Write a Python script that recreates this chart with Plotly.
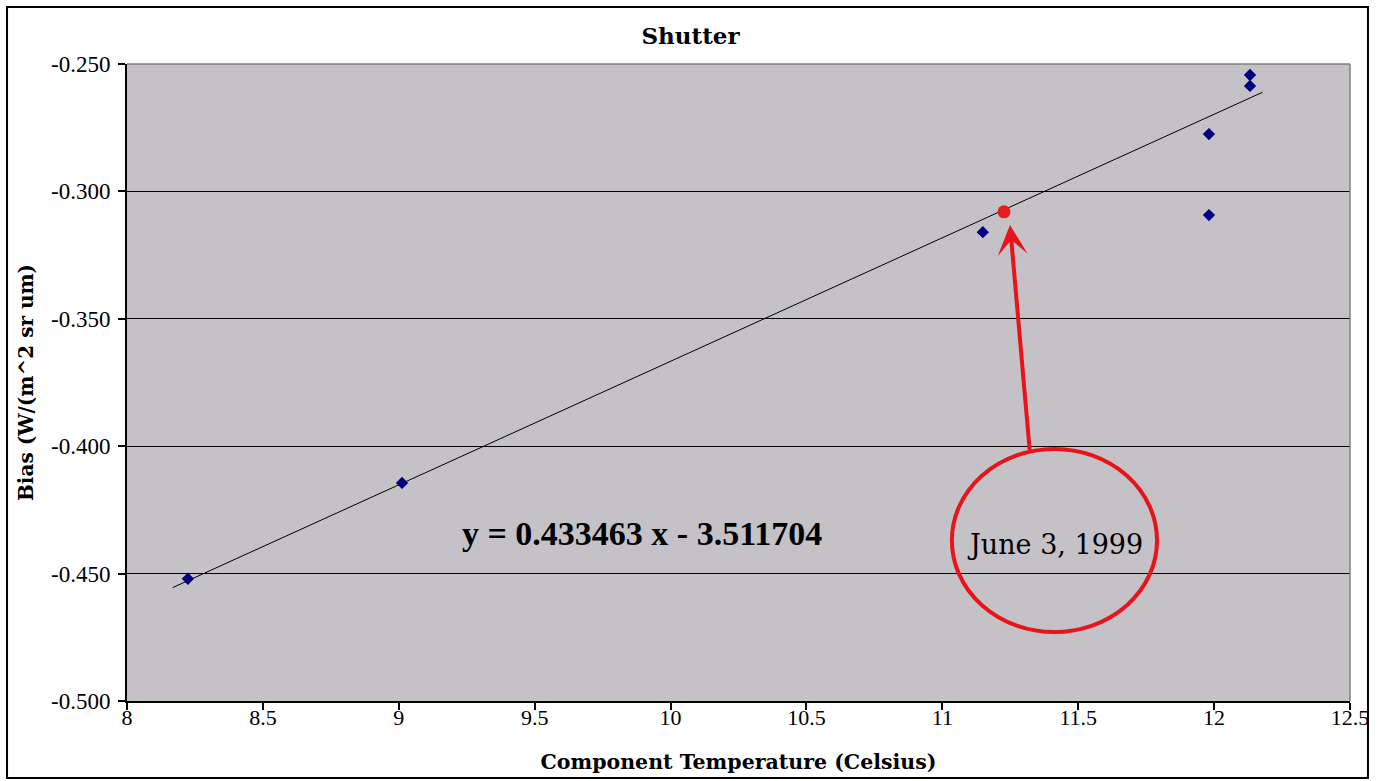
import plotly.graph_objects as go

# ---- data ----
TEMP_C = [8.224, 9.012, 11.149, 11.981, 11.981, 12.132, 12.132]
BIAS = [-0.4520, -0.4144, -0.3160, -0.2775, -0.3093, -0.2543, -0.2586]

HIGHLIGHT_TEMP = [11.227]
HIGHLIGHT_BIAS = [-0.3080]
HIGHLIGHT_LABEL = "June 3, 1999"

TREND_X = [8.168, 12.178]
TREND_Y = [-0.4555, -0.2611]
EQUATION = "y = 0.433463 x - 3.511704"

X_TICKS = [8, 8.5, 9, 9.5, 10, 10.5, 11, 11.5, 12, 12.5]
X_TICK_LABELS = ["8", "8.5", "9", "9.5", "10", "10.5", "11", "11.5", "12", "12.5"]
Y_TICKS = [-0.500, -0.450, -0.400, -0.350, -0.300, -0.250]
Y_TICK_LABELS = ["-0.500", "-0.450", "-0.400", "-0.350", "-0.300", "-0.250"]

TITLE = "Shutter"
X_TITLE = "Component Temperature (Celsius)"
Y_TITLE = "Bias (W/(m^2 sr um)"

SERIF = "Liberation Serif, Times New Roman, serif"
WIDE_SERIF = "DejaVu Serif, serif"

fig = go.Figure()

fig.add_trace(go.Scatter(
    x=TREND_X, y=TREND_Y, mode="lines",
    line=dict(color="black", width=1), showlegend=False, hoverinfo="skip"))

fig.add_trace(go.Scatter(
    x=TEMP_C, y=BIAS, mode="markers",
    marker=dict(symbol="diamond", size=9.5, color="#000080",
                line=dict(width=0)),
    showlegend=False))

fig.add_trace(go.Scatter(
    x=HIGHLIGHT_TEMP, y=HIGHLIGHT_BIAS, mode="markers",
    marker=dict(symbol="circle", size=13, color="#e81c1c",
                line=dict(width=0)),
    showlegend=False))

# equation text
fig.add_annotation(x=9.895, y=-0.4341, xref="x", yref="y", text=EQUATION,
                   showarrow=False,
                   font=dict(family=SERIF, size=34, color="black", weight="bold"))

# red ellipse with label
fig.add_shape(type="circle", xref="x", yref="y",
              x0=11.035, x1=11.790, y0=-0.4729, y1=-0.4011,
              line=dict(color="#e8141a", width=4), layer="above")
fig.add_annotation(x=11.414, y=-0.4385, xref="x", yref="y", text=HIGHLIGHT_LABEL,
                   showarrow=False,
                   font=dict(family=WIDE_SERIF, size=27, color="black"))

# red arrow to highlighted point
fig.add_annotation(x=11.249, y=-0.3132, xref="x", yref="y",
                   ax=11.322, ay=-0.4023, axref="x", ayref="y",
                   text="", showarrow=True, arrowhead=3, arrowsize=1.25,
                   arrowwidth=4, arrowcolor="#e8141a", standoff=0)

# plot-area gray border (top and right)
fig.add_shape(type="line", xref="paper", yref="paper", x0=0, x1=1, y0=1, y1=1,
              line=dict(color="#808080", width=1.5), layer="above")
fig.add_shape(type="line", xref="paper", yref="paper", x0=1, x1=1, y0=0, y1=1,
              line=dict(color="#808080", width=1.5), layer="above")

# outer chart border
fig.add_shape(type="rect", xref="paper", yref="paper",
              x0=-0.0981, x1=1.0147, y0=-0.1209, y1=1.0895,
              line=dict(color="black", width=2), layer="above")

fig.update_layout(
    width=1381, height=781,
    margin=dict(l=127, r=31, t=64, b=80),
    paper_bgcolor="white",
    plot_bgcolor="#c4c2c6",
    title=dict(text=TITLE, x=0.5, xref="container", xanchor="center",
               y=1 - 36 / 781, yref="container", yanchor="middle",
               font=dict(family=WIDE_SERIF, size=23, color="black", weight="bold")),
    xaxis=dict(
        range=[8, 12.5], tickvals=X_TICKS, ticktext=X_TICK_LABELS,
        showgrid=False, zeroline=False,
        showline=True, linecolor="black", linewidth=2,
        ticks="outside", ticklen=7, tickcolor="black", tickwidth=1.5,
        ticklabelstandoff=-11,
        tickfont=dict(family=SERIF, size=22, color="black"),
        title=dict(text=X_TITLE, standoff=25,
                   font=dict(family=WIDE_SERIF, size=20.5, color="black", weight="bold")),
    ),
    yaxis=dict(
        range=[-0.5, -0.25], tickvals=Y_TICKS, ticktext=Y_TICK_LABELS,
        showgrid=True, gridcolor="black", gridwidth=1, zeroline=False,
        showline=True, linecolor="black", linewidth=2,
        ticks="outside", ticklen=7, tickcolor="black", tickwidth=1.5,
        ticklabelstandoff=3,
        tickfont=dict(family=SERIF, size=23, color="black"),
        title=dict(text=Y_TITLE, standoff=12,
                   font=dict(family=WIDE_SERIF, size=20, color="black", weight="bold")),
    ),
)

fig.write_html("out.html", config={"displayModeBar": False},
               post_script="document.body.style.margin='0';")
